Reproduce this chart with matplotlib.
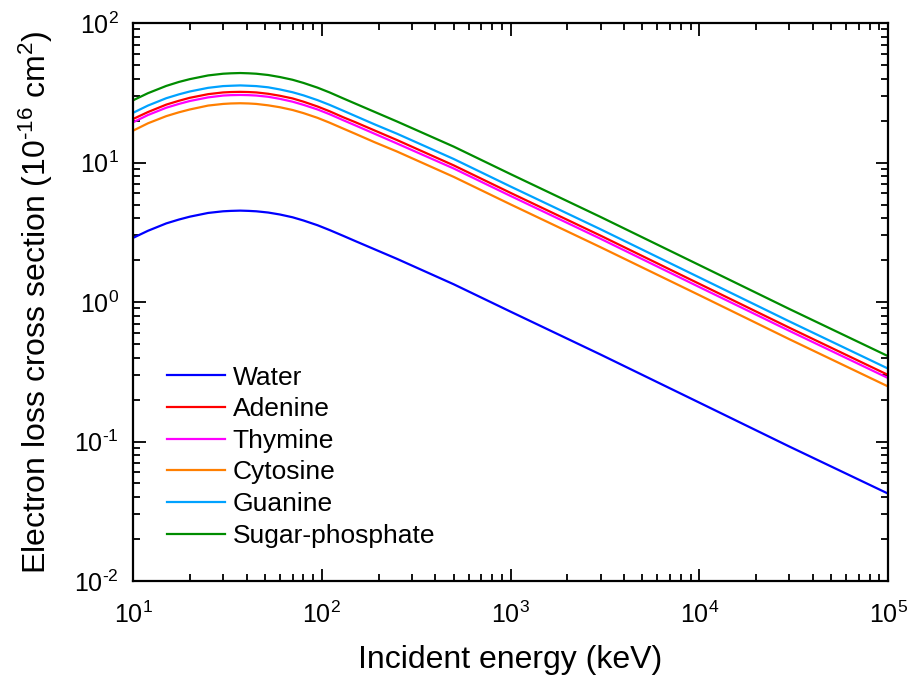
import matplotlib
matplotlib.use("Agg")
import numpy as np
import matplotlib.pyplot as plt
from matplotlib.ticker import LogLocator, NullFormatter, FuncFormatter

plt.rcParams['font.family'] = ['Liberation Sans', 'DejaVu Sans']
plt.rcParams['mathtext.fontset'] = 'custom'
plt.rcParams['mathtext.rm'] = 'Liberation Sans'
plt.rcParams['mathtext.it'] = 'Liberation Sans:italic'

# incident energy (keV)
energy = [10, 12, 15, 17.5, 20, 25, 30, 33, 37, 41, 45, 52, 60, 70, 80, 95,
          110, 130, 150, 190, 250, 500, 1000, 3000, 1e4, 3e4, 1e5]

# electron loss cross sections (1e-16 cm^2)
water = [2.88, 3.24, 3.66, 3.90, 4.09, 4.35, 4.47, 4.50, 4.52, 4.50, 4.47,
         4.38, 4.24, 4.05, 3.84, 3.55, 3.28, 2.98, 2.74, 2.39, 2.04, 1.34,
         0.853, 0.420, 0.190, 0.092, 0.0423]
adenine = [20.5, 23.0, 26.0, 27.7, 29.1, 30.9, 31.8, 32.0, 32.1, 32.0, 31.8,
           31.1, 30.1, 28.8, 27.3, 25.2, 23.3, 21.1, 19.5, 17.0, 14.5, 9.54,
           6.06, 2.99, 1.35, 0.654, 0.300]
thymine = [19.4, 21.9, 24.7, 26.3, 27.6, 29.3, 30.2, 30.4, 30.5, 30.4, 30.2,
           29.6, 28.6, 27.3, 25.9, 24.0, 22.2, 20.1, 18.5, 16.1, 13.7, 9.06,
           5.76, 2.84, 1.28, 0.621, 0.285]
cytosine = [16.9, 19.1, 21.5, 22.9, 24.0, 25.6, 26.3, 26.5, 26.6, 26.5, 26.3,
            25.7, 24.9, 23.8, 22.6, 20.9, 19.3, 17.5, 16.1, 14.0, 12.0, 7.89,
            5.01, 2.47, 1.12, 0.541, 0.248]
guanine = [22.7, 25.6, 28.9, 30.8, 32.3, 34.3, 35.3, 35.5, 35.7, 35.5, 35.3,
           34.6, 33.4, 31.9, 30.3, 28.0, 25.9, 23.5, 21.6, 18.8, 16.1, 10.6,
           6.73, 3.32, 1.50, 0.726, 0.333]
sugar_phosphate = [27.9, 31.4, 35.4, 37.8, 39.6, 42.1, 43.3, 43.6, 43.8, 43.6,
                   43.3, 42.4, 41.0, 39.2, 37.2, 34.4, 31.8, 28.8, 26.5, 23.1,
                   19.7, 13.0, 8.26, 4.07, 1.84, 0.891, 0.409]

series = [
    ("Water", water, "#0000ff"),
    ("Adenine", adenine, "#ff0000"),
    ("Thymine", thymine, "#ff00ff"),
    ("Cytosine", cytosine, "#ff7f00"),
    ("Guanine", guanine, "#00a2ff"),
    ("Sugar-phosphate", sugar_phosphate, "#008c00"),
]


def pow10(v, pos):
    # exponent with a plain hyphen, like the original figure
    e = int(round(np.log10(v)))
    return r'$\mathdefault{10^{\text{%d}}}$' % e


fig = plt.figure(figsize=(9.09, 6.77), dpi=100)
ax = fig.add_axes([0.1463, 0.1418, 0.8307, 0.8242])

for name, vals, col in series:
    ax.plot(energy, vals, color=col, lw=1.6, label=name)

ax.set_xscale('log')
ax.set_yscale('log')
ax.set_xlim(10, 1e5)
ax.set_ylim(1e-2, 1e2)

ax.xaxis.set_major_locator(LogLocator(base=10, numticks=10))
ax.xaxis.set_minor_locator(LogLocator(base=10, subs=range(2, 10), numticks=20))
ax.yaxis.set_major_locator(LogLocator(base=10, numticks=10))
ax.yaxis.set_minor_locator(LogLocator(base=10, subs=range(2, 10), numticks=20))
ax.xaxis.set_major_formatter(FuncFormatter(pow10))
ax.yaxis.set_major_formatter(FuncFormatter(pow10))
ax.xaxis.set_minor_formatter(NullFormatter())
ax.yaxis.set_minor_formatter(NullFormatter())

ax.tick_params(which='both', direction='in', top=True, right=True,
               width=1.3, labelsize=18)
ax.tick_params(which='major', length=9)
ax.tick_params(which='minor', length=5)
ax.tick_params(axis='x', which='major', pad=15)
ax.tick_params(axis='y', which='major', pad=10)
for s in ax.spines.values():
    s.set_linewidth(1.6)

ax.set_xlabel("Incident energy (keV)", fontsize=23, labelpad=12)
ax.set_ylabel(r"Electron loss cross section (10$^{\text{-16}}$ cm$^{2}$)",
              fontsize=23, labelpad=14)

leg = ax.legend(loc='lower left', bbox_to_anchor=(0.0134, 0.017), frameon=False,
                fontsize=19, handlelength=2.2, handletextpad=0.3,
                labelspacing=0.29)

fig.savefig("out.png", dpi=100)
